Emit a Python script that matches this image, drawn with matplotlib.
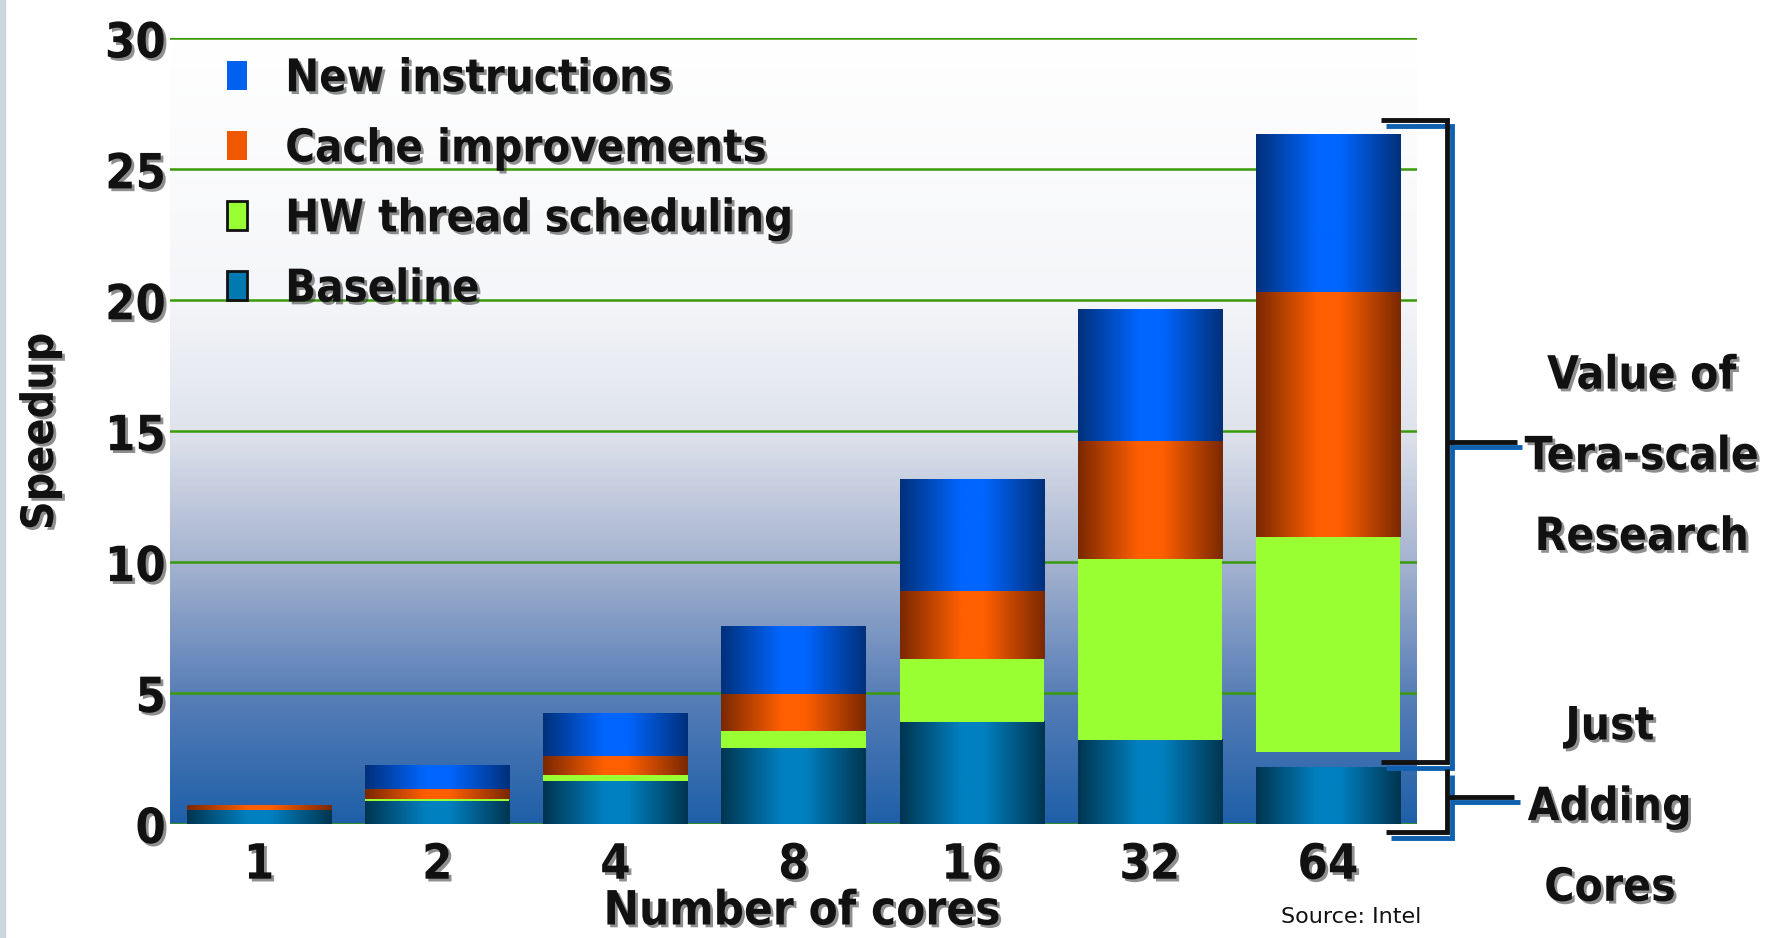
import numpy as np
import matplotlib
matplotlib.use('Agg')
import matplotlib.pyplot as plt
import matplotlib.patheffects as pe
import matplotlib.transforms as mtransforms
from matplotlib.colors import LinearSegmentedColormap
from matplotlib.patches import Patch, Rectangle

# data
cores = ['1', '2', '4', '8', '16', '32', '64']
baseline = [0.53, 0.89, 1.64, 2.90, 3.90, 3.21, 2.15]
gap = [0, 0, 0, 0, 0, 0, 0.61]
hw_sched = [0, 0.06, 0.23, 0.65, 2.41, 6.92, 8.21]
cache = [0.19, 0.38, 0.72, 1.42, 2.59, 4.50, 9.36]
new_instr = [0, 0.88, 1.64, 2.56, 4.25, 5.02, 6.01]
y_ticks = [0, 5, 10, 15, 20, 25, 30]

plt.rcParams['font.family'] = ['DejaVu Sans']
plt.rcParams['font.weight'] = 'bold'
plt.rcParams['font.stretch'] = 'condensed'

ink = '#111111'
shadow = [pe.withSimplePatchShadow(offset=(2, -2), shadow_rgbFace='#333333', alpha=0.55)]

fig = plt.figure(figsize=(17.77, 9.38), dpi=100)
fig.patches.append(Rectangle((0, 0), 0.003, 1, transform=fig.transFigure, color='#cdd6e0'))
ax = fig.add_axes([0.0957, 0.1215, 0.7017, 0.8375])

# background gradient
bg = LinearSegmentedColormap.from_list('bg', [(0, '#1f5fa8'), (0.17, '#5a80b8'), (0.33, '#a4b2cf'),
                                              (0.5, '#dfe3ec'), (0.67, '#f5f6f9'), (1, '#ffffff')])
ax.imshow(np.linspace(0, 1, 256).reshape(-1, 1), cmap=bg, origin='lower',
          extent=(-0.5, 6.5, 0, 30), aspect='auto', zorder=0)


def bar_cmap(edge, center):
    return LinearSegmentedColormap.from_list('b', [(0, edge), (0.42, center), (0.58, center), (1, edge)])


def shade(bars, cmap):
    grad = np.linspace(0, 1, 256).reshape(1, -1)
    for b in bars:
        if b.get_height() > 0:
            ax.imshow(grad, cmap=cmap, aspect='auto', zorder=2, interpolation='bilinear',
                      extent=(b.get_x(), b.get_x() + b.get_width(), b.get_y(), b.get_y() + b.get_height()))
        b.set_visible(False)


x = np.arange(len(cores))
w = 0.81
bottom = np.zeros(len(cores))

b = ax.bar(x, baseline, w, bottom=bottom)
shade(b, bar_cmap('#003550', '#0080c0'))
bottom += baseline
ax.bar(x, gap, w, bottom=bottom, color='none')
bottom += gap
ax.bar(x, hw_sched, w, bottom=bottom, color='#99ff33', zorder=2)
bottom += hw_sched
b = ax.bar(x, cache, w, bottom=bottom)
shade(b, bar_cmap('#7a2800', '#ff5f00'))
bottom += cache
b = ax.bar(x, new_instr, w, bottom=bottom)
shade(b, bar_cmap('#00307a', '#0066ff'))

ax.set_xlim(-0.5, 6.5)
ax.set_ylim(0, 30)
ax.set_yticks(y_ticks)
ax.set_xticks(x)
ax.set_xticklabels(cores)
ax.yaxis.grid(True, color='#3a9a0a', lw=1.8)
ax.set_axisbelow(True)
for s in ax.spines.values():
    s.set_visible(False)
ax.tick_params(axis='y', length=0, pad=3, labelsize=35, labelcolor=ink)
ax.tick_params(axis='x', length=0, pad=12, labelsize=35, labelcolor=ink)
for lab in ax.get_xticklabels() + ax.get_yticklabels():
    lab.set_path_effects(shadow)

ax.set_xlabel('Number of cores', fontsize=34, fontweight='bold', color=ink, path_effects=shadow)
ax.xaxis.set_label_coords(0.507, -0.112)
ax.xaxis.label.set_va('center')
ax.set_ylabel('Speedup', fontsize=32, fontweight='bold', color=ink, path_effects=shadow)
ax.yaxis.set_label_coords(-0.104, 0.5)
ax.yaxis.label.set_va('center')

handles = [Patch(facecolor='#0060f0', edgecolor='none'),
           Patch(facecolor='#f05800', edgecolor='none'),
           Patch(facecolor='#99ff33', edgecolor=ink, lw=2),
           Patch(facecolor='#0078b0', edgecolor=ink, lw=2)]
labels = ['New instructions', 'Cache improvements', 'HW thread scheduling', 'Baseline']
leg = ax.legend(handles, labels, loc='upper left', bbox_to_anchor=(0.046, 0.976), frameon=False,
                fontsize=32.5, handlelength=0.44, handleheight=0.63, handletextpad=0.84,
                labelspacing=0.6, borderpad=0, borderaxespad=0)
for t in leg.get_texts():
    t.set_color(ink)
    t.set_path_effects(shadow)

# brackets on the right
trans = mtransforms.blended_transform_factory(ax.transAxes, ax.transData)
line_fx = [pe.SimpleLineShadow(offset=(4, -4), shadow_color='#1060b0', alpha=1), pe.Normal()]
kw = dict(transform=trans, color=ink, lw=3.5, clip_on=False, path_effects=line_fx,
          solid_joinstyle='miter', solid_capstyle='butt')
ax.plot([0.971, 1.024, 1.024, 0.971], [26.87, 26.87, 2.36, 2.36], **kw)
ax.plot([1.024, 1.080], [14.6, 14.6], **kw)
ax.plot([1.024, 1.024, 0.975], [2.1, -0.31, -0.31], **kw)
ax.plot([1.024, 1.078], [1.04, 1.04], **kw)

fig.text(0.924, 0.513, 'Value of\nTera-scale\nResearch', ha='center', va='center', fontsize=33,
         linespacing=2.02, color=ink, path_effects=shadow)
fig.text(0.906, 0.139, 'Just\nAdding\nCores', ha='center', va='center', fontsize=33,
         linespacing=2.02, color=ink, path_effects=shadow)
fig.text(0.721, 0.022, 'Source: Intel', ha='left', va='center', fontsize=16,
         fontweight='normal', fontstretch='normal', color=ink)

fig.savefig('out.png', dpi=100)
